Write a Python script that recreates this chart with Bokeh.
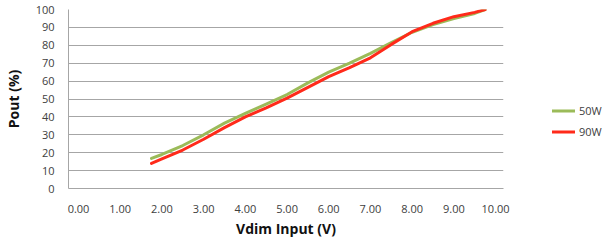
from bokeh.plotting import figure
from bokeh.models import Range1d, FixedTicker, NumeralTickFormatter, Legend, LegendItem
from bokeh.embed import file_html
from bokeh.resources import INLINE

# Data
vdim = [1.75, 2.0, 2.5, 3.0, 3.5, 4.0, 4.5, 5.0, 5.5, 6.0, 6.5, 7.0, 7.5, 8.0, 8.5, 9.0, 9.5, 9.75]
pout_50w = [16.8, 19.0, 24.0, 30.0, 36.5, 42.0, 47.2, 52.5, 59.0, 65.0, 70.0, 75.5, 81.5, 87.3, 91.6, 95.0, 97.8, 100.0]
pout_90w = [14.0, 16.5, 21.5, 27.5, 34.0, 40.0, 45.0, 50.5, 56.5, 62.5, 67.5, 73.0, 80.5, 87.6, 92.3, 96.0, 98.4, 100.0]
series_names = ["50W", "90W"]
x_ticks = [0, 1, 2, 3, 4, 5, 6, 7, 8, 9, 10]
y_ticks = [0, 10, 20, 30, 40, 50, 60, 70, 80, 90, 100]

FONT = "Open Sans"
GRID = "#A6A6A6"
TXT = "#404040"

p = figure(frame_width=435, frame_height=179,
           min_border_left=57, min_border_top=9, min_border_bottom=46, min_border_right=100,
           x_range=Range1d(-0.24, 10.19), y_range=Range1d(0, 100),
           output_backend="svg", toolbar_location=None)
p.outline_line_color = None
p.background_fill_color = "white"
p.border_fill_color = "white"

l50 = p.line(vdim, pout_50w, line_color="#9BBB59", line_width=3, line_join="round", line_cap="round")
l90 = p.line(vdim, pout_90w, line_color="#FF2A1A", line_width=3, line_join="round", line_cap="round")

p.xaxis.ticker = FixedTicker(ticks=x_ticks)
p.yaxis.ticker = FixedTicker(ticks=y_ticks)
p.xaxis.formatter = NumeralTickFormatter(format="0.00")

for ax in (p.xaxis[0], p.yaxis[0]):
    ax.axis_line_color = GRID
    ax.axis_line_width = 1
    ax.major_tick_line_color = None
    ax.minor_tick_line_color = None
    ax.major_label_text_font = FONT
    ax.major_label_text_font_size = "11px"
    ax.major_label_text_color = TXT
    ax.axis_label_text_font = FONT
    ax.axis_label_text_font_size = "14px"
    ax.axis_label_text_font_style = "bold"
    ax.axis_label_text_color = "#111111"

p.xaxis.axis_label = "Vdim Input (V)"
p.yaxis.axis_label = "Pout (%)"
p.xaxis.major_label_standoff = 10
p.xaxis.axis_label_standoff = 3
p.yaxis.major_label_standoff = 8
p.yaxis.axis_label_standoff = 10

p.xgrid.grid_line_color = None
p.ygrid.grid_line_color = GRID
p.ygrid.grid_line_width = 1

legend = Legend(items=[LegendItem(label=series_names[0], renderers=[l50]),
                       LegendItem(label=series_names[1], renderers=[l90])],
                location=(49, 46), padding=0, margin=0, spacing=0,
                glyph_width=23, glyph_height=21, label_height=21,
                label_standoff=4,
                label_text_font=FONT, label_text_font_size="11px", label_text_color=TXT,
                border_line_color=None, background_fill_alpha=0)
p.add_layout(legend, "right")

open("out.html", "w").write(file_html(p, INLINE))
